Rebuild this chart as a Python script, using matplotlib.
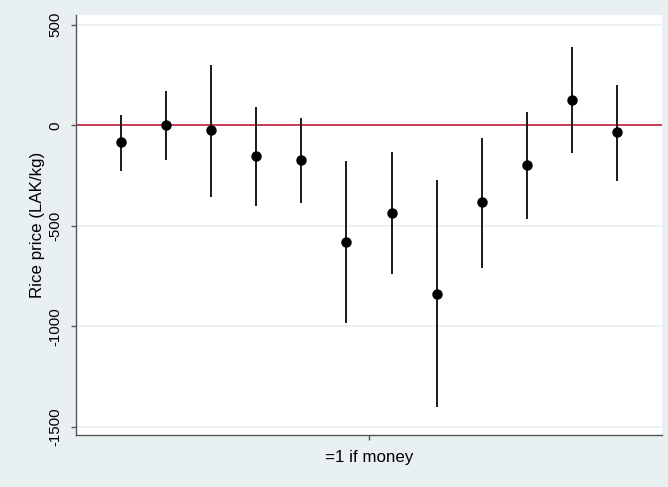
import matplotlib
matplotlib.use("Agg")
import matplotlib.pyplot as plt
import numpy as np

# coefficient estimates with confidence bounds
positions = list(range(1, 13))
estimates = [-85, -1, -25, -155, -175, -578, -434, -838, -383, -195, 126, -35]
lower = [-225, -175, -358, -400, -388, -984, -739, -1401, -708, -465, -138, -278]
upper = [50, 170, 302, 92, 38, -178, -133, -273, -62, 68, 387, 202]
yticks = [500, 0, -500, -1000, -1500]
xtick_label = "=1 if money"

plt.rcParams['font.family'] = ['Liberation Sans', 'DejaVu Sans']

bg = '#e9f0f2'
fig = plt.figure(figsize=(6.68, 4.87), dpi=100, facecolor=bg)
ax = fig.add_axes([0.1138, 0.1068, 0.991 - 0.1138, 0.969 - 0.1068])
ax.set_facecolor('white')

# light gridlines
for yv in yticks:
    if yv != 0:
        ax.axhline(yv, color='#e8eeee', lw=1.2, zorder=0)

ax.axhline(0, color='#be1a38', lw=1.2, zorder=1)

for x, lo, hi in zip(positions, lower, upper):
    ax.plot([x, x], [lo, hi], color='#1a1a1a', lw=1.4, solid_capstyle='butt', zorder=2)
ax.plot(positions, estimates, 'o', color='black', ms=6.5, zorder=3)

ax.set_xlim(0, 13)
ax.set_ylim(-1540, 548)

ax.set_yticks(yticks)
ax.set_yticklabels([str(v) for v in yticks], rotation=90, va='center', fontsize=10.8)
ax.set_xticks([6.5])
ax.set_xticklabels([xtick_label], fontsize=12.2)
ax.set_ylabel('Rice price (LAK/kg)', fontsize=12.2, labelpad=3)

for side in ['top', 'right']:
    ax.spines[side].set_visible(False)
for side in ['left', 'bottom']:
    ax.spines[side].set_color('#555555')
    ax.spines[side].set_linewidth(1.0)
ax.tick_params(axis='both', color='#555555', length=3.6, width=1, labelcolor='black')
ax.tick_params(axis='y', pad=6)
ax.tick_params(axis='x', pad=7)

fig.savefig('out.png', dpi=100, facecolor=bg)
